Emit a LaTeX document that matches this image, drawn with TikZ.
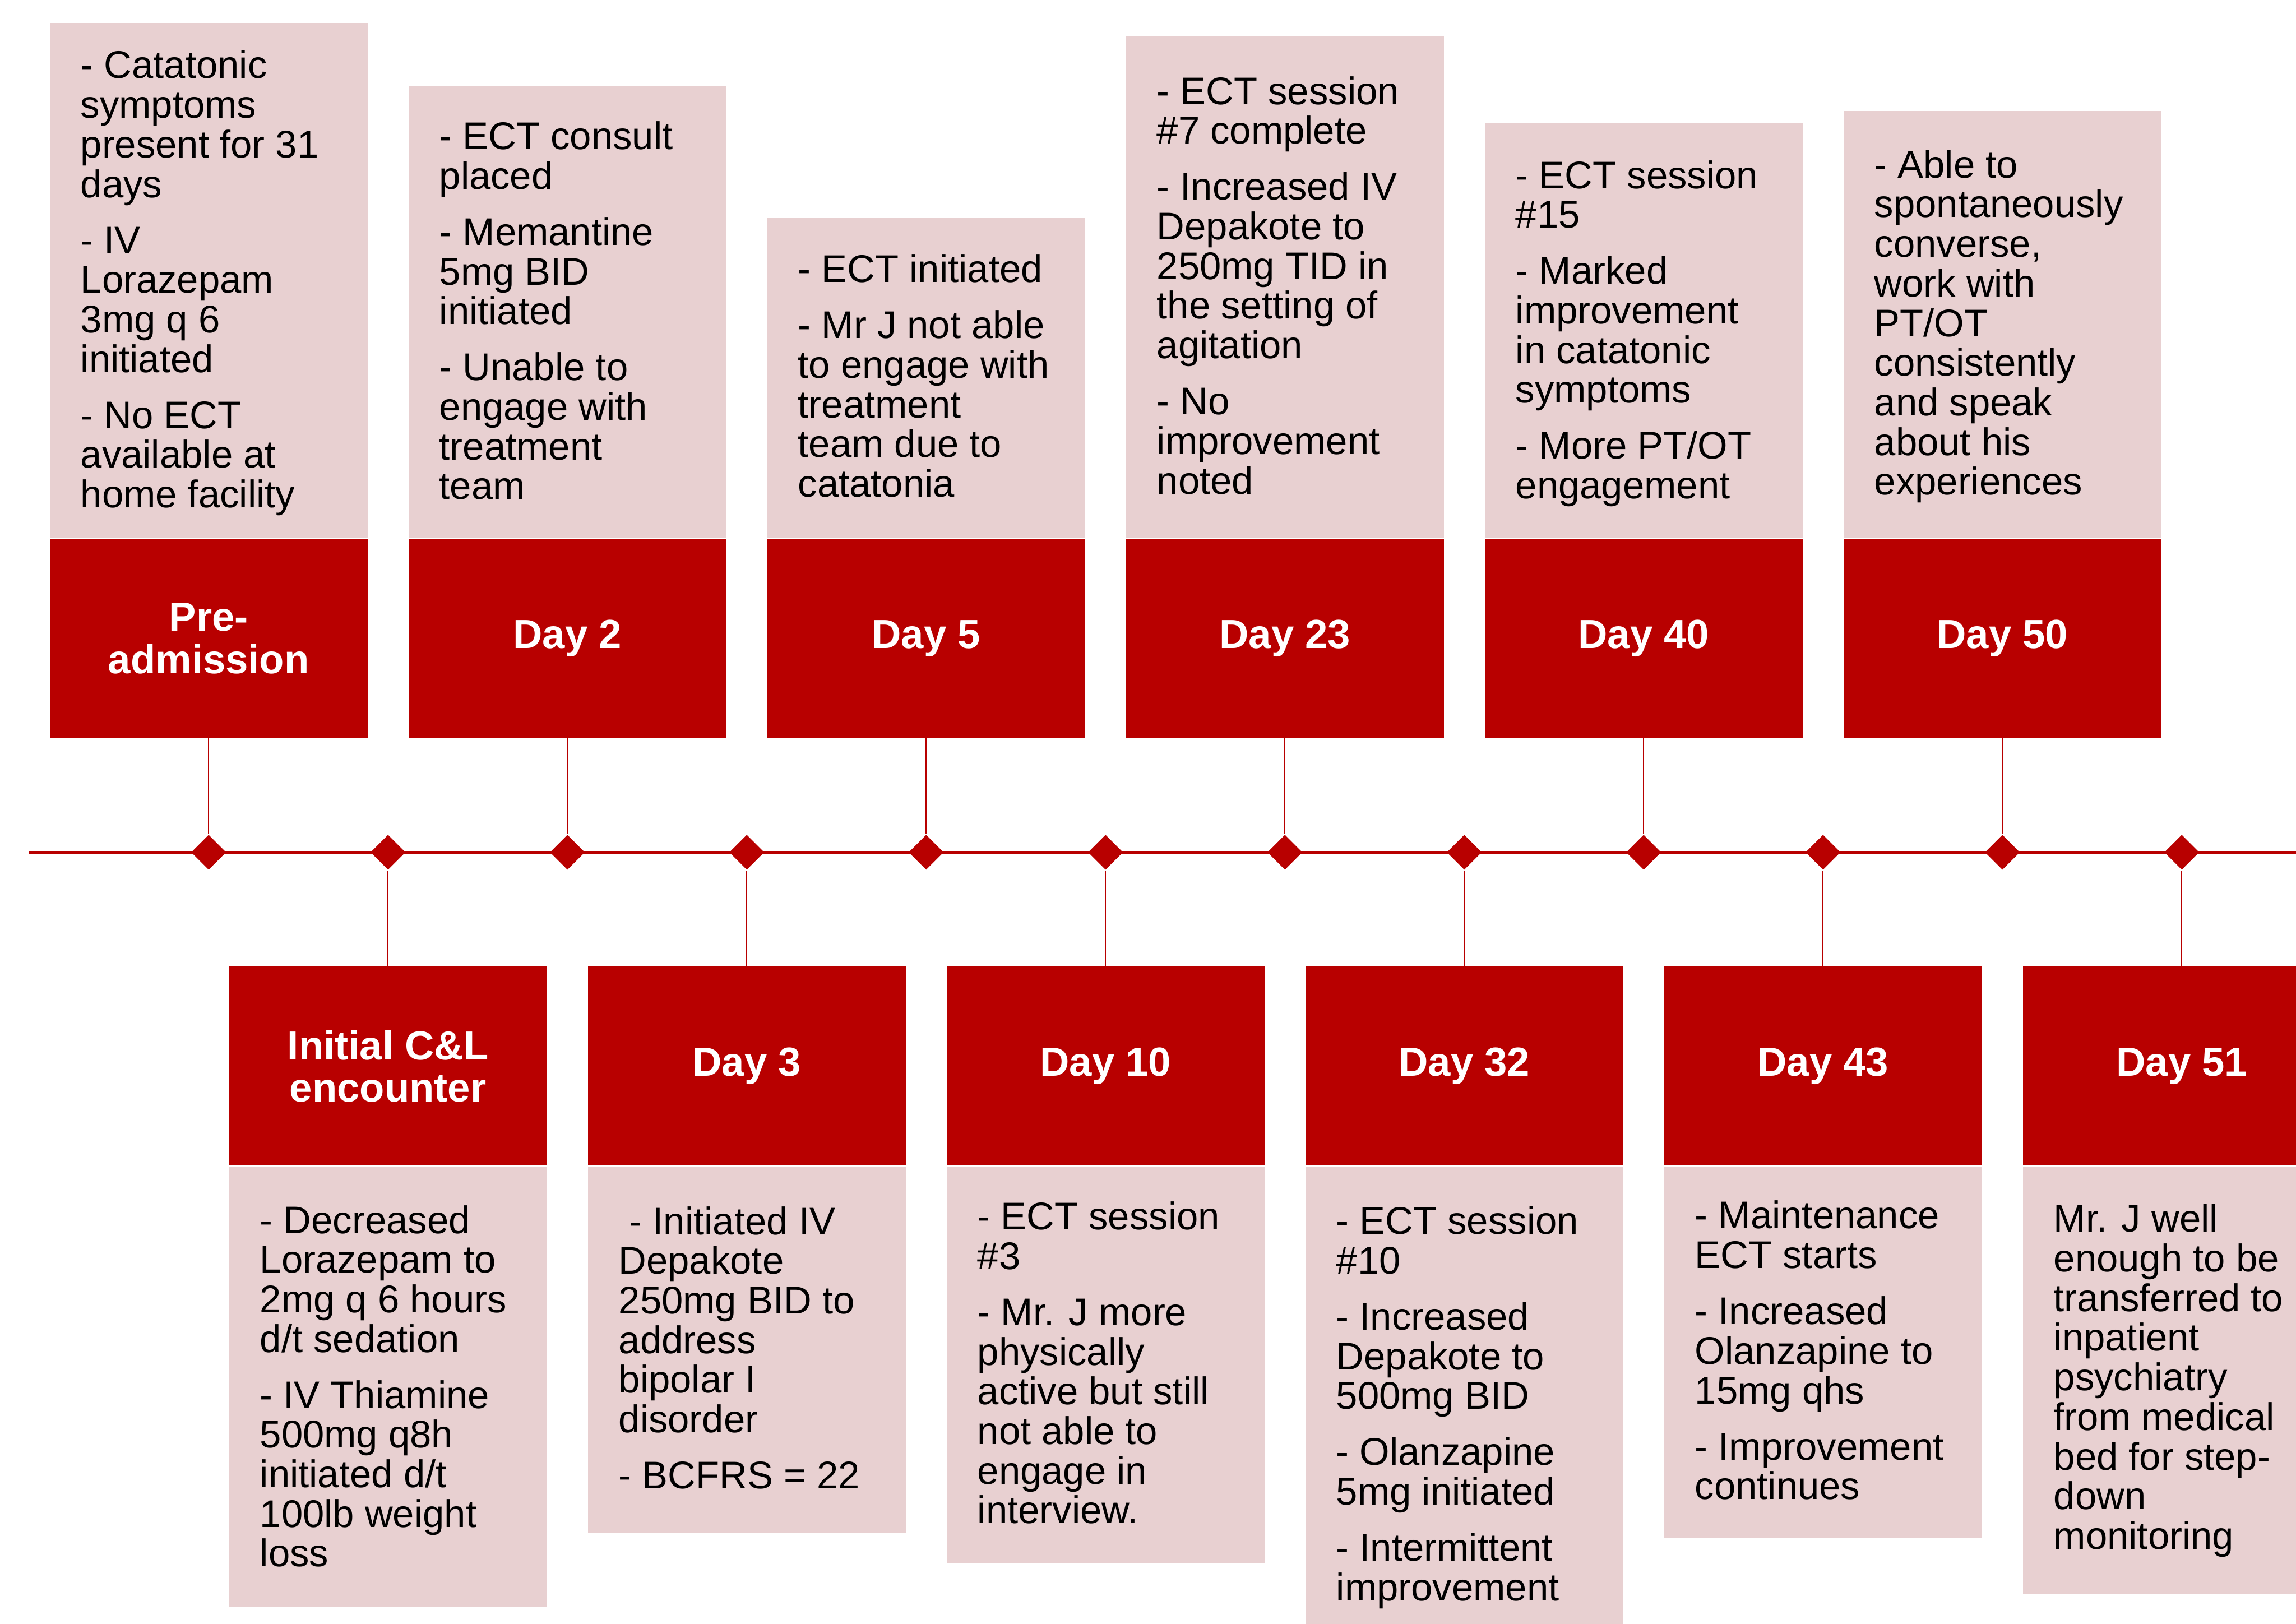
\documentclass[tikz,border=0pt]{standalone}
\usepackage{fontspec}
\setmainfont{Liberation Sans}
\usetikzlibrary{shapes.geometric,positioning}

\definecolor{darkred}{RGB}{184,0,0}
\definecolor{lightpink}{RGB}{232,208,209}

\tikzset{%
  every header/.style={
    rectangle,
    fill=darkred,
    text=white,
    font=\fontsize{15.8}{16.4}\selectfont\bfseries,
    align=center,
    minimum width=4.34cm,
    minimum height=2.72cm,
    inner sep=0pt
  },
  every body/.style={
    rectangle,
    fill=lightpink,
    minimum width=4.34cm,
    inner sep=0pt
  },
  every note/.style={
    font=\fontsize{15}{15.4}\selectfont,
    align=left,
    inner sep=0pt,
    anchor=north west
  },
  event marker/.style={
    diamond,
    fill=darkred,
    minimum width=0.48cm,
    minimum height=0.48cm,
    inner sep=0pt
  },
  timeline/.style={draw=darkred, line width=1pt},
  stem/.style={draw=darkred, line width=0.4pt},
}

\begin{document}
\begin{tikzpicture}[x=0.02cm, y=-0.02cm]
\useasboundingbox (0,0) rectangle (1568,1109);
\clip (0,0) rectangle (1568,1109);

\coordinate (line-start) at (20,582);
\coordinate (line-end) at (1600,582);
\draw [timeline] (line-start) -- (line-end);

\foreach \i in {1,...,12}
  \node [event marker] (mark-\i) at ({20+122.5*\i},582) {};

% events above the line
\foreach \m/\hgt/\dy/\lbl/\txt [count=\i] in {
  1/7.03/0.372/{Pre-\\admission}/{- Catatonic\\symptoms\\present for 31\\days\\[6.4pt]- IV\\Lorazepam\\3mg q 6\\initiated\\[6.4pt]- No ECT\\available at\\home facility},
  3/6.174/0.486/{Day 2}/{- ECT consult\\placed\\[6.4pt]- Memantine\\5mg BID\\initiated\\[6.4pt]- Unable to\\engage with\\treatment\\team},
  5/4.376/0.504/{Day 5}/{- ECT initiated\\[6.4pt]- Mr J not able\\to engage with\\treatment\\team due to\\catatonia},
  7/6.86/0.556/{Day 23}/{- ECT session\\\#7 complete\\[6.4pt]- Increased IV\\Depakote to\\250mg TID in\\the setting of\\agitation\\[6.4pt]- No\\improvement\\noted},
  9/5.66/0.504/{Day 40}/{- ECT session\\\#15\\[6.4pt]- Marked\\improvement\\in catatonic\\symptoms\\[6.4pt]- More PT/OT\\engagement},
  11/5.83/0.53/{Day 50}/{- Able to\\spontaneously\\converse,\\work with\\PT/OT\\consistently\\and speak\\about his\\experiences}}
{
  \node [every header] (top-\i) at ({20+122.5*\m},436) {\lbl};
  \node [every body, minimum height=\hgt cm, anchor=south] (top-body-\i) at (top-\i.north) {};
  \node [every note, below right=\dy cm and 0.42cm of top-body-\i.north west] (top-note-\i) {\txt};
  \draw [stem] (top-\i.south) -- (mark-\m.north);
}

% events below the line
\foreach \m/\hgt/\dy/\lbl/\txt [count=\i] in {
  2/6.012/0.528/{Initial C\&L\\encounter}/{- Decreased\\Lorazepam to\\2mg q 6 hours\\d/t sedation\\[6.4pt]- IV Thiamine\\500mg q8h\\initiated d/t\\100lb weight\\loss},
  4/4.998/0.544/{Day 3}/{~- Initiated IV\\Depakote\\250mg BID to\\address\\bipolar I\\disorder\\[6.4pt]- BCFRS = 22},
  6/5.424/0.48/{Day 10}/{- ECT session\\\#3\\[6.4pt]- Mr. J more\\physically\\active but still\\not able to\\engage in\\interview.},
  8/6.8/0.54/{Day 32}/{- ECT session\\\#10\\[6.4pt]- Increased\\Depakote to\\500mg BID\\[6.4pt]- Olanzapine\\5mg initiated\\[6.4pt]- Intermittent\\improvement},
  10/5.076/0.466/{Day 43}/{- Maintenance\\ECT starts\\[6.4pt]- Increased\\Olanzapine to\\15mg qhs\\[6.4pt]- Improvement\\continues},
  12/5.844/0.512/{Day 51}/{Mr. J well\\enough to be\\transferred to\\inpatient\\psychiatry\\from medical\\bed for step-\\down\\monitoring}}
{
  \node [every header] (bot-\i) at ({20+122.5*\m},728) {\lbl};
  \node [every body, minimum height=\hgt cm, anchor=north] (bot-body-\i) at (bot-\i.south) {};
  \node [every note, below right=\dy cm and 0.42cm of bot-body-\i.north west] (bot-note-\i) {\txt};
  \draw [stem] (mark-\m.south) -- (bot-\i.north);
}

\end{tikzpicture}
\end{document}
